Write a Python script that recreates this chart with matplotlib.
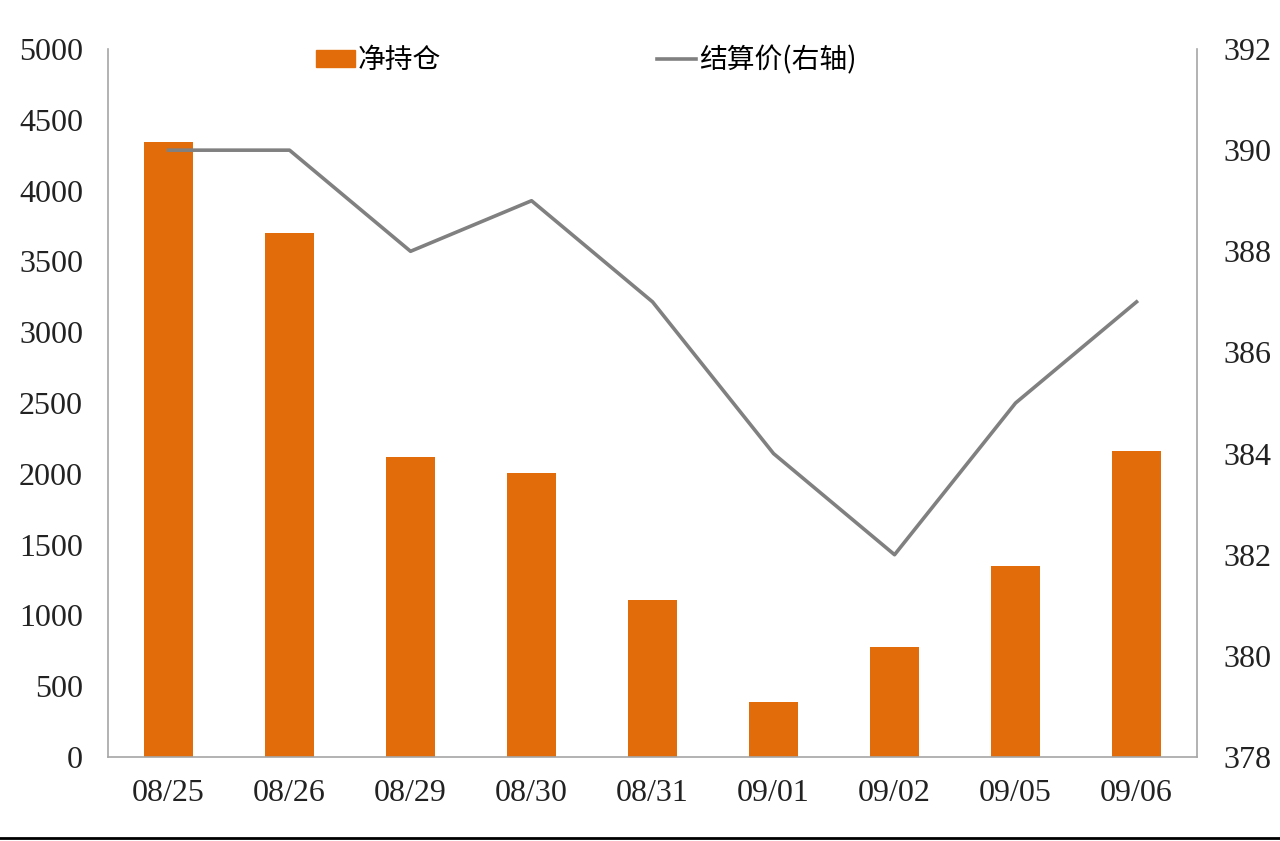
import matplotlib.pyplot as plt
from matplotlib.lines import Line2D

dates = ['08/25', '08/26', '08/29', '08/30', '08/31', '09/01', '09/02', '09/05', '09/06']
net_position = [4343, 3701, 2119, 2006, 1109, 388, 777, 1349, 2161]
settle_price = [390, 390, 388, 389, 387, 384, 382, 385, 387]

plt.rcParams['font.family'] = ['Liberation Serif', 'Noto Sans CJK SC']

fig = plt.figure(figsize=(12.8, 8.41), dpi=100)
ax = fig.add_axes([0.0844, 0.0999, 0.8508, 0.8418])

x = list(range(len(dates)))
ax.bar(x, net_position, width=0.4, color='#E36C0A', label='净持仓')
ax.set_xlim(-0.5, len(dates) - 0.5)
ax.set_ylim(0, 5000)
ax.set_yticks(range(0, 5001, 500))
ax.set_xticks(x)
ax.set_xticklabels(dates)
ax.tick_params(axis='both', length=0, labelsize=23, colors='#222222')
ax.tick_params(axis='y', pad=18)
ax.tick_params(axis='x', pad=16)
for s in ['top', 'right']:
    ax.spines[s].set_visible(False)
for s in ['left', 'bottom']:
    ax.spines[s].set_color('#A6A6A6')
    ax.spines[s].set_linewidth(1.2)

ax2 = ax.twinx()
ax2.plot(x, settle_price, color='#808080', linewidth=2.6, label='结算价(右轴)')
ax2.set_ylim(378, 392)
ax2.set_yticks(range(378, 393, 2))
ax2.tick_params(axis='y', length=0, labelsize=23, colors='#222222', pad=19)
for s in ['top', 'left', 'bottom']:
    ax2.spines[s].set_visible(False)
ax2.spines['right'].set_color('#A6A6A6')
ax2.spines['right'].set_linewidth(1.2)

handles = [plt.Rectangle((0, 0), 1, 1, color='#E36C0A'),
           Line2D([0], [0], color='#808080', linewidth=2.6)]
leg = ax.legend(handles, ['净持仓', '结算价(右轴)'], loc='upper center',
                bbox_to_anchor=(0.439, 1.033), ncol=2, frameon=False,
                prop={'family': ['Noto Sans CJK SC'], 'size': 20},
                columnspacing=7.8, handlelength=1.4, handletextpad=0.1,
                handleheight=0.6, borderpad=0.2)

fig.add_artist(Line2D([0, 1], [0.0036, 0.0036], color='black', linewidth=2,
                      transform=fig.transFigure))

fig.savefig('out.png', dpi=100)
